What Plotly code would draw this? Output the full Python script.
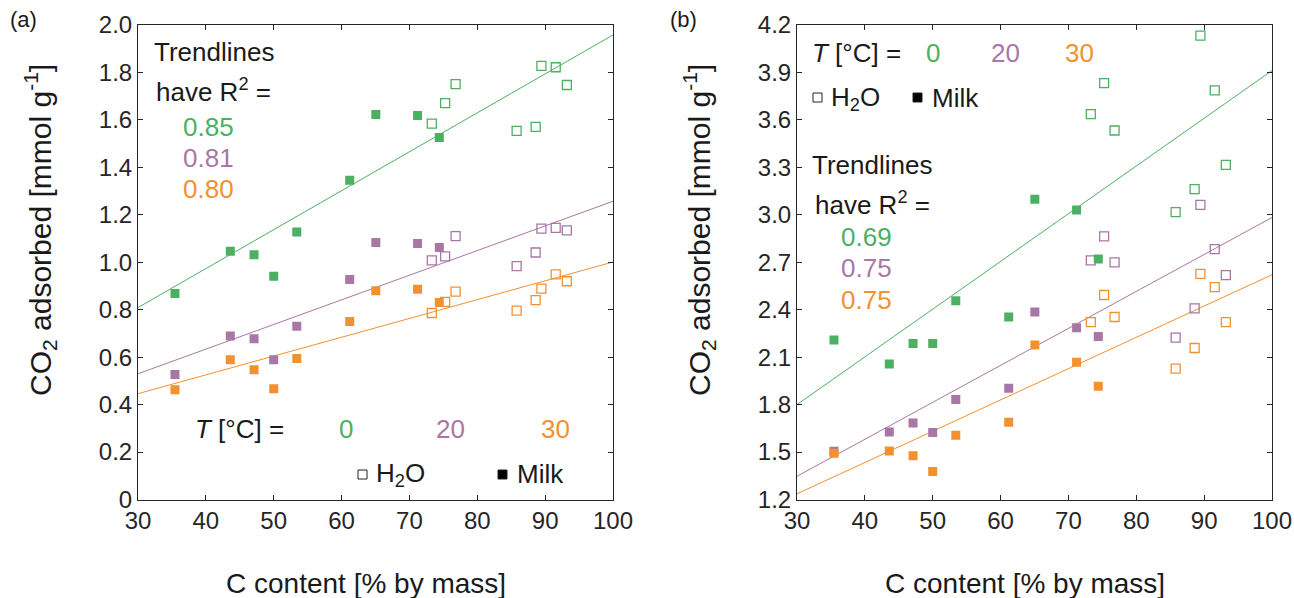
import plotly.graph_objects as go

W, H = 1294, 598
FONT = "Liberation Sans, Arial, Helvetica, sans-serif"
GREEN = "#4BB062"
PURPLE = "#A977A4"
ORANGE = "#F29130"
TXT = "#1a1a1a"

temps = ["0", "20", "30"]
colors = [GREEN, PURPLE, ORANGE]

# C content [% by mass]
milk_c = [35.45, 43.6, 47.1, 50.0, 53.4, 61.2, 65.05, 71.2, 74.4]
h2o_c = [73.3, 75.26, 76.8, 85.8, 88.6, 89.45, 91.56, 93.2]

# Panel (a) CO2 adsorbed [mmol/g]
a_milk_0 = [0.868, 1.046, 1.032, 0.941, 1.127, 1.346, 1.623, 1.619, 1.526]
a_milk_20 = [0.527, 0.689, 0.678, 0.589, 0.730, 0.927, 1.083, 1.079, 1.062]
a_milk_30 = [0.463, 0.589, 0.547, 0.467, 0.594, 0.750, 0.880, 0.886, 0.830]
a_h2o_0 = [1.584, 1.671, 1.751, 1.554, 1.571, 1.828, 1.822, 1.747]
a_h2o_20 = [1.008, 1.025, 1.110, 0.984, 1.041, 1.142, 1.145, 1.134]
a_h2o_30 = [0.786, 0.833, 0.876, 0.796, 0.840, 0.889, 0.949, 0.920]

# Panel (b)
b_milk_0 = [2.208, 2.057, 2.187, 2.187, 2.457, 2.354, 3.099, 3.030, 2.720]
b_milk_20 = [1.505, 1.627, 1.684, 1.623, 1.832, 1.903, 2.385, 2.286, 2.231]
b_milk_30 = [1.493, 1.507, 1.476, 1.377, 1.606, 1.688, 2.177, 2.067, 1.916]
b_h2o_0 = [3.636, 3.832, 3.533, 3.017, 3.162, 4.133, 3.787, 3.316]
b_h2o_20 = [2.712, 2.863, 2.699, 2.223, 2.408, 3.063, 2.783, 2.619]
b_h2o_30 = [2.322, 2.493, 2.354, 2.027, 2.158, 2.627, 2.543, 2.322]

# Trendlines (value at x = 30 and x = 100)
trend_x = [30, 100]
a_trend_0 = [0.809, 1.958]
a_trend_20 = [0.530, 1.257]
a_trend_30 = [0.446, 1.001]
b_trend_0 = [1.800, 3.912]
b_trend_20 = [1.347, 2.983]
b_trend_30 = [1.236, 2.621]

a_r2 = ["0.85", "0.81", "0.80"]
b_r2 = ["0.69", "0.75", "0.75"]

x_ticks = [30, 40, 50, 60, 70, 80, 90, 100]
a_yticks = [0, 0.2, 0.4, 0.6, 0.8, 1.0, 1.2, 1.4, 1.6, 1.8, 2.0]
a_yticktext = ["0", "0.2", "0.4", "0.6", "0.8", "1.0", "1.2", "1.4", "1.6", "1.8", "2.0"]
b_yticks = [1.2, 1.5, 1.8, 2.1, 2.4, 2.7, 3.0, 3.3, 3.6, 3.9, 4.2]
b_yticktext = ["1.2", "1.5", "1.8", "2.1", "2.4", "2.7", "3.0", "3.3", "3.6", "3.9", "4.2"]

fig = go.Figure()

panels = [
    ("x", "y", [a_trend_0, a_trend_20, a_trend_30], [a_milk_0, a_milk_20, a_milk_30], [a_h2o_0, a_h2o_20, a_h2o_30]),
    ("x2", "y2", [b_trend_0, b_trend_20, b_trend_30], [b_milk_0, b_milk_20, b_milk_30], [b_h2o_0, b_h2o_20, b_h2o_30]),
]
for xa, ya, trends, milks, h2os in panels:
    for tr, col in zip(trends, colors):
        fig.add_trace(go.Scatter(x=trend_x, y=tr, mode="lines", xaxis=xa, yaxis=ya,
                                 line=dict(color=col, width=1), showlegend=False, hoverinfo="skip"))
    for hv, col in zip(h2os, colors):
        fig.add_trace(go.Scatter(x=h2o_c, y=hv, mode="markers", xaxis=xa, yaxis=ya,
                                 marker=dict(symbol="square-open", size=9, color=col, line=dict(width=1.3, color=col)),
                                 showlegend=False))
    for mv, col in zip(milks, colors):
        fig.add_trace(go.Scatter(x=milk_c, y=mv, mode="markers", xaxis=xa, yaxis=ya,
                                 marker=dict(symbol="square", size=9, color=col, line=dict(width=0)),
                                 showlegend=False))

def P(x, y):
    return dict(x=x / W, y=1 - y / H, xref="paper", yref="paper")

ann = []
def text(x, y, t, size=26, color=TXT, xanchor="left", angle=0):
    d = P(x, y)
    d.update(text=t, showarrow=False, xanchor=xanchor, yanchor="middle",
             font=dict(family=FONT, size=size, color=color), textangle=angle)
    ann.append(d)

# Panel (a) texts
text(8, 20, "(a)", size=22)
text(152, 52, "Trendlines")
text(154, 90, "have R<sup>2</sup> =")
for i, (r, c) in enumerate(zip(a_r2, colors)):
    text(181, [127, 158, 189][i], r, color=c)
text(193, 429, "<i>T</i> [°C] =")
for t, c, xc in zip(temps, colors, [346, 450.5, 555.5]):
    text(xc, 429, t, color=c, xanchor="center")
text(374, 474, "H<sub>2</sub>O")
text(515, 474, "Milk")

# Panel (b) texts
text(668, 20, "(b)", size=22)
text(810, 53, "<i>T</i> [°C] =")
for t, c, xc in zip(temps, colors, [933, 1005.5, 1079]):
    text(xc, 53, t, color=c, xanchor="center")
text(829, 98, "H<sub>2</sub>O")
text(930, 98, "Milk")
text(810, 165, "Trendlines")
text(813, 203, "have R<sup>2</sup> =")
for i, (r, c) in enumerate(zip(b_r2, colors)):
    text(839, [237, 268, 300][i], r, color=c)

# axis titles
ytitle = "CO<sub>2</sub> adsorbed [mmol g<sup>-1</sup>]"
xtitle = "C content [% by mass]"
text(40, 230, ytitle, size=30, xanchor="center", angle=-90)
text(699, 230, ytitle, size=30, xanchor="center", angle=-90)
text(366, 583, xtitle, size=28, xanchor="center")
text(1025, 583, xtitle, size=28, xanchor="center")

shapes = []
def sq(x0, y0, x1, y1, filled):
    shapes.append(dict(type="rect", xref="paper", yref="paper",
                       x0=x0 / W, x1=x1 / W, y0=1 - y1 / H, y1=1 - y0 / H,
                       line=dict(color="#222222", width=1),
                       fillcolor="#000000" if filled else "rgba(0,0,0,0)"))
sq(358, 470, 367, 479, False)
sq(498, 470, 507, 479, True)
sq(813, 93, 822, 102, False)
sq(913, 93, 922, 102, True)

axis_common = dict(showline=True, linecolor="#262626", linewidth=1, mirror="ticks",
                   ticks="inside", ticklen=5, tickwidth=1, tickcolor="#262626",
                   showgrid=False, zeroline=False, automargin=False,
                   tickfont=dict(family=FONT, size=24, color="#262626"))

ydom = [1 - 499.5 / H, 1 - 25 / H]
fig.update_layout(
    template="none",
    width=W, height=H, autosize=False,
    margin=dict(l=0, r=0, t=0, b=0, pad=0, autoexpand=False),
    paper_bgcolor="white", plot_bgcolor="white",
    showlegend=False,
    xaxis=dict(domain=[138 / W, 613 / W], range=[30, 100], tickvals=x_ticks, anchor="y", **axis_common),
    yaxis=dict(domain=ydom, range=[0, 2.0], tickvals=a_yticks, ticktext=a_yticktext, anchor="x", **axis_common),
    xaxis2=dict(domain=[797 / W, 1272 / W], range=[30, 100], tickvals=x_ticks, anchor="y2", **axis_common),
    yaxis2=dict(domain=ydom, range=[1.2, 4.2], tickvals=b_yticks, ticktext=b_yticktext, anchor="x2", **axis_common),
    annotations=ann,
    shapes=shapes,
)

fig.write_html("out.html")
